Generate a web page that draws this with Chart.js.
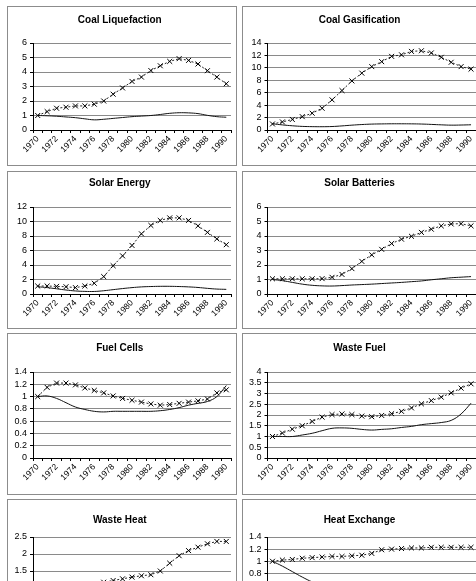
<!DOCTYPE html>
<html>
<head>
<meta charset="utf-8">
<script src="https://cdn.jsdelivr.net/npm/chart.js@4.4.1/dist/chart.umd.min.js"></script>
<style>
    html, body { margin: 0; padding: 0; background: #fff; overflow: hidden; width: 476px; height: 581px; }
    .panel { position: absolute; border: 1px solid #8c8c8c; box-sizing: border-box; background: #fff; }
    .panel canvas { position: absolute; left: 0; top: 0; }
</style>
</head>
<body>
<script>
const years = [1970, 1971, 1972, 1973, 1974, 1975, 1976, 1977, 1978, 1979, 1980,
               1981, 1982, 1983, 1984, 1985, 1986, 1987, 1988, 1989, 1990];

const titles = ['Coal Liquefaction', 'Coal Gasification', 'Solar Energy', 'Solar Batteries',
                'Fuel Cells', 'Waste Fuel', 'Waste Heat', 'Heat Exchange'];
const yMax  = [6, 14, 12, 6, 1.4, 4, 2.5, 1.4];
const yStep = [1, 2, 2, 1, 0.2, 0.5, 0.5, 0.2];

// solid line series
const coalLiqSolid   = [1.0, 0.98, 0.95, 0.9, 0.85, 0.77, 0.7, 0.74, 0.8, 0.86, 0.92, 0.96, 1.0, 1.07, 1.15, 1.19, 1.18, 1.13, 1.01, 0.92, 0.88];
const coalGasSolid   = [1.0, 0.82, 0.68, 0.58, 0.54, 0.53, 0.56, 0.66, 0.78, 0.88, 0.95, 0.98, 1.0, 1.0, 0.99, 0.96, 0.9, 0.83, 0.78, 0.8, 0.84];
const solarEnSolid   = [1.0, 0.88, 0.72, 0.55, 0.42, 0.36, 0.35, 0.45, 0.6, 0.75, 0.88, 0.98, 1.03, 1.06, 1.06, 1.03, 0.98, 0.9, 0.78, 0.68, 0.64];
const solarBatSolid  = [1.0, 0.92, 0.8, 0.68, 0.6, 0.56, 0.55, 0.58, 0.62, 0.65, 0.68, 0.72, 0.76, 0.8, 0.85, 0.9, 0.98, 1.05, 1.12, 1.16, 1.2];
const fuelCellSolid  = [1.0, 1.01, 0.97, 0.9, 0.83, 0.79, 0.76, 0.75, 0.76, 0.76, 0.76, 0.76, 0.76, 0.77, 0.79, 0.82, 0.86, 0.89, 0.92, 1.0, 1.18];
const wasteFuelSolid = [1.0, 1.0, 1.0, 1.07, 1.15, 1.27, 1.38, 1.4, 1.38, 1.33, 1.3, 1.33, 1.36, 1.42, 1.47, 1.55, 1.6, 1.65, 1.75, 2.05, 2.55];
const wasteHeatSolid = [1.0, 0.97, 0.93, 0.9, 0.88, 0.86, 0.85, 0.85, 0.86, 0.88, 0.9, 0.92, 0.94, 0.95, 0.97, 1.0, 1.02, 1.03, 1.05, 1.07, 1.1];
const heatExSolid    = [1.0, 0.92, 0.83, 0.74, 0.66, 0.6, 0.55, 0.52, 0.5, 0.5, 0.5, 0.51, 0.52, 0.53, 0.54, 0.55, 0.56, 0.56, 0.57, 0.57, 0.58];

// dotted line with x markers
const coalLiqCross   = [1.0, 1.27, 1.5, 1.57, 1.66, 1.66, 1.78, 2.0, 2.47, 2.9, 3.35, 3.65, 4.1, 4.43, 4.73, 4.92, 4.8, 4.55, 4.09, 3.65, 3.19];
const coalGasCross   = [0.97, 1.3, 1.7, 2.15, 2.7, 3.5, 4.85, 6.35, 7.9, 9.15, 10.2, 11.0, 11.85, 12.1, 12.65, 12.75, 12.4, 11.7, 10.9, 10.2, 9.8];
const solarEnCross   = [1.1, 1.1, 1.05, 1.0, 0.88, 1.1, 1.48, 2.4, 3.9, 5.26, 6.7, 8.3, 9.46, 10.15, 10.5, 10.5, 10.15, 9.4, 8.5, 7.6, 6.8];
const solarBatCross  = [1.05, 1.05, 1.05, 1.05, 1.05, 1.06, 1.15, 1.35, 1.75, 2.25, 2.7, 3.08, 3.48, 3.78, 3.98, 4.25, 4.47, 4.7, 4.83, 4.85, 4.7];
const fuelCellCross  = [1.0, 1.15, 1.22, 1.22, 1.19, 1.14, 1.1, 1.06, 1.01, 0.97, 0.94, 0.91, 0.88, 0.86, 0.87, 0.89, 0.91, 0.93, 0.96, 1.06, 1.11];
const wasteFuelCross = [1.0, 1.16, 1.34, 1.5, 1.7, 1.9, 2.02, 2.05, 2.02, 1.95, 1.92, 1.98, 2.06, 2.17, 2.33, 2.52, 2.67, 2.83, 3.03, 3.25, 3.45];
const wasteHeatCross = [1.0, 1.02, 1.04, 1.06, 1.08, 1.1, 1.13, 1.17, 1.22, 1.27, 1.32, 1.36, 1.39, 1.5, 1.73, 1.95, 2.1, 2.2, 2.3, 2.37, 2.37];
const heatExCross    = [1.0, 1.02, 1.03, 1.05, 1.06, 1.07, 1.08, 1.08, 1.09, 1.1, 1.13, 1.19, 1.2, 1.21, 1.22, 1.22, 1.23, 1.23, 1.23, 1.23, 1.23];

const solidSeries = [coalLiqSolid, coalGasSolid, solarEnSolid, solarBatSolid, fuelCellSolid, wasteFuelSolid, wasteHeatSolid, heatExSolid];
const crossSeries = [coalLiqCross, coalGasCross, solarEnCross, solarBatCross, fuelCellCross, wasteFuelCross, wasteHeatCross, heatExCross];

// page layout (absolute px)
const colLeft  = [7, 242];
const colWidth = [230, 240];
const rowTop    = [6, 171, 333, 499];
const rowHeight = [160, 158, 162, 160];
const rowTitleY = [20, 183, 348, 520];
const rowPlotTop = [43, 207, 372, 537];
const rowPlotBot = [130, 294, 458, 622];

const FONT = 'Arial, "Liberation Sans", sans-serif';

function fmt(v) {
    return String(Math.round(v * 10) / 10);
}

function makePanel(i) {
    const col = i % 2, row = Math.floor(i / 2);
    const div = document.createElement('div');
    div.className = 'panel';
    div.style.left = colLeft[col] + 'px';
    div.style.top = rowTop[row] + 'px';
    div.style.width = colWidth[col] + 'px';
    div.style.height = rowHeight[row] + 'px';
    document.body.appendChild(div);

    const cw = colWidth[col] - 2, ch = rowHeight[row] - 2;
    const canvas = document.createElement('canvas');
    canvas.width = cw;
    canvas.height = ch;
    div.appendChild(canvas);

    const inTop = rowTop[row] + 1;
    const titleC = rowTitleY[row] - inTop;
    const plotTop = rowPlotTop[row] - inTop;
    const plotBot = rowPlotBot[row] - inTop;
    const padTop = titleC - 6;
    const padBot = plotTop - padTop - 12;
    const xHeight = ch - plotBot;
    const yWidth = col === 0 ? 25 : 24.5;
    const padRight = col === 0 ? 4.5 : 5;

    new Chart(canvas.getContext('2d'), {
        type: 'line',
        data: {
            labels: years,
            datasets: [
                {
                    data: solidSeries[i],
                    borderColor: '#111',
                    borderWidth: 1,
                    pointRadius: 0,
                    tension: 0.4,
                    fill: false
                },
                {
                    data: crossSeries[i],
                    borderColor: '#222',
                    borderWidth: 1,
                    borderDash: [2, 2],
                    pointStyle: 'crossRot',
                    pointRadius: 3.5,
                    pointBorderColor: '#000',
                    pointBorderWidth: 1,
                    tension: 0,
                    fill: false
                }
            ]
        },
        options: {
            responsive: false,
            animation: false,
            devicePixelRatio: 1,
            layout: { padding: { left: 0, right: padRight, top: 0, bottom: 0 } },
            plugins: {
                legend: { display: false },
                tooltip: { enabled: false },
                title: {
                    display: true,
                    text: titles[i],
                    color: '#000',
                    font: { family: FONT, size: 10, weight: 'bold', lineHeight: 1.2 },
                    padding: { top: padTop, bottom: padBot }
                }
            },
            scales: {
                x: {
                    offset: true,
                    grid: { offset: true, drawOnChartArea: false, drawTicks: true, tickLength: 3, tickColor: '#000' },
                    border: { color: '#000', width: 1 },
                    ticks: {
                        autoSkip: false,
                        minRotation: 45,
                        maxRotation: 45,
                        padding: 1,
                        color: '#000',
                        font: { family: FONT, size: 8.5 },
                        callback: (v, idx) => idx % 2 ? '' : String(years[idx])
                    },
                    afterFit: s => { s.height = xHeight; }
                },
                y: {
                    min: 0,
                    max: yMax[i],
                    grid: { color: '#8a8a8a', tickLength: 3, tickColor: '#000' },
                    border: { color: '#000', width: 1 },
                    ticks: {
                        stepSize: yStep[i],
                        autoSkip: false,
                        padding: 3,
                        color: '#000',
                        font: { family: FONT, size: 9 },
                        callback: v => fmt(v)
                    },
                    afterFit: s => { s.width = yWidth; }
                }
            }
        }
    });
}

for (let i = 0; i < titles.length; i++) makePanel(i);
</script>
</body>
</html>
